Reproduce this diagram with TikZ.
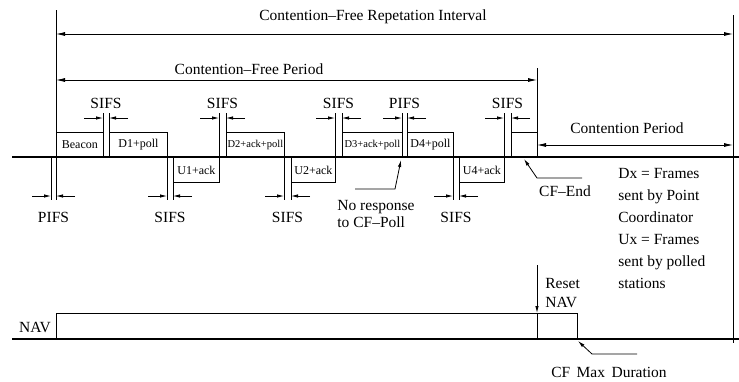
\documentclass[tikz,border=0pt]{standalone}
\usepackage{fontspec}
\setmainfont{Liberation Serif}
\usetikzlibrary{arrows.meta,positioning,calc}

\begin{document}
\begin{tikzpicture}[x=1pt,y=-1pt,>={Latex[length=7pt,width=3.5pt]},
font=\fontsize{15.5}{18}\selectfont,line width=0.8pt,
upframe/.style={draw,anchor=south west,minimum height=24pt,inner sep=0pt,font=\fontsize{12}{14}\selectfont},
dnframe/.style={draw,anchor=north west,minimum height=25pt,inner sep=0pt,font=\fontsize{12}{14}\selectfont},
small/.style={font=\fontsize{10.5}{12}\selectfont},
span/.style={<->,>={Latex[length=9pt,width=4pt]}},
axis/.style={line width=1.4pt},
lbl/.style={inner sep=0pt}]
\useasboundingbox (0,0) rectangle (739,381);

% medium and NAV time lines
\coordinate (tl0) at (12,157); \coordinate (tl1) at (739,157);
\coordinate (nv0) at (12,339); \coordinate (nv1) at (739,339);
\draw[axis] (tl0) -- (tl1);
\draw[axis] (nv0) -- (nv1);

% interval boundaries
\draw (56,10) -- (56,200);
\draw (537,68) -- (537,157);
\draw (733,15) -- (733,343);

\draw[span] (56,34) -- (733,34);
\node[lbl] (cri) at (373,17) {Contention--Free Repetation Interval};
\draw[span] (56,80) -- (537,80);
\node[lbl] (cfp) at (249,69) {Contention--Free Period};
\draw[span] (537,145) -- (733,145);
\node[lbl] (cp) at (627,128) {Contention Period};

% frames
\node[upframe,minimum width=47pt] (bcn) at (56,157) {Beacon};
\node[upframe,minimum width=58pt] (d1) at (109,157) {D1+poll};
\node[dnframe,minimum width=46pt] (u1) at (173,157) {U1+ack};
\node[upframe,small,minimum width=58pt] (d2) at (226,157) {D2+ack+poll};
\node[dnframe,minimum width=44pt] (u2) at (291,157) {U2+ack};
\node[upframe,small,minimum width=60pt] (d3) at (342,157) {D3+ack+poll};
\node[upframe,minimum width=46pt] (d4) at (407,157) {D4+poll};
\node[dnframe,minimum width=45pt] (u4) at (459,157) {U4+ack};
\node[upframe,minimum width=26pt] (cfe) at (511,157) {};

% inter frame spaces
\foreach \a/\b/\t [count=\i] in {103/109/SIFS,219/226/SIFS,335/342/SIFS,402/407/PIFS,504/511/SIFS}{
  \draw (\a,113) -- (\a,157) (\b,113) -- (\b,157);
  \draw[->] (\a-19,118) -- (\a,118);
  \draw[->] (\b+19,118) -- (\b,118);
  \node[lbl] (up\i) at ({(\a+\b)/2},103) {\t};
}
\foreach \a/\b/\t [count=\i] in {51/56/PIFS,167/173/SIFS,284/291/SIFS,453/459/SIFS}{
  \draw (\a,157) -- (\a,200) (\b,157) -- (\b,200);
  \draw[->] (\a-19,196) -- (\a,196);
  \draw[->] (\b+19,196) -- (\b,196);
  \node[lbl] (dn\i) at ({(\a+\b)/2},217) {\t};
}

% notes
\node[lbl,anchor=base west] (nr1) at (337,210) {No response};
\node[lbl,anchor=base west] (nr2) at (337,227) {to CF--Poll};
\coordinate (nrtip) at (401,160);
\draw[->] (355,189) -- (395,189) -- (nrtip);

\node[lbl] (cfendl) at (565,191) {CF--End};
\coordinate (cfendtip) at (524,159);
\draw[->] (582,178) -- (537,178) -- (cfendtip);

\node[lbl,anchor=north west,align=left,font=\fontsize{15.5}{22}\selectfont] (key) at (618,168)
  {Dx = Frames\\sent by Point\\Coordinator\\Ux = Frames\\sent by polled\\stations};

% NAV
\node[lbl] (nav) at (35,327) {NAV};
\draw (56,339) |- (577,313) -- (577,339);
\draw (537,313) -- (537,339);
\coordinate (rsttop) at (537,265);
\draw[->] (rsttop) -- (537,313);
\node[lbl,anchor=base west] (rst) at (545,288) {Reset};
\node[lbl,anchor=base west] (rnav) at (545,307) {NAV};

\node[lbl] (cfmax) at (609,372) {CF\, Max\, Duration};
\coordinate (cfmaxtip) at (578,341);
\draw[->] (637,354) -- (592,354) -- (cfmaxtip);
\end{tikzpicture}
\end{document}
